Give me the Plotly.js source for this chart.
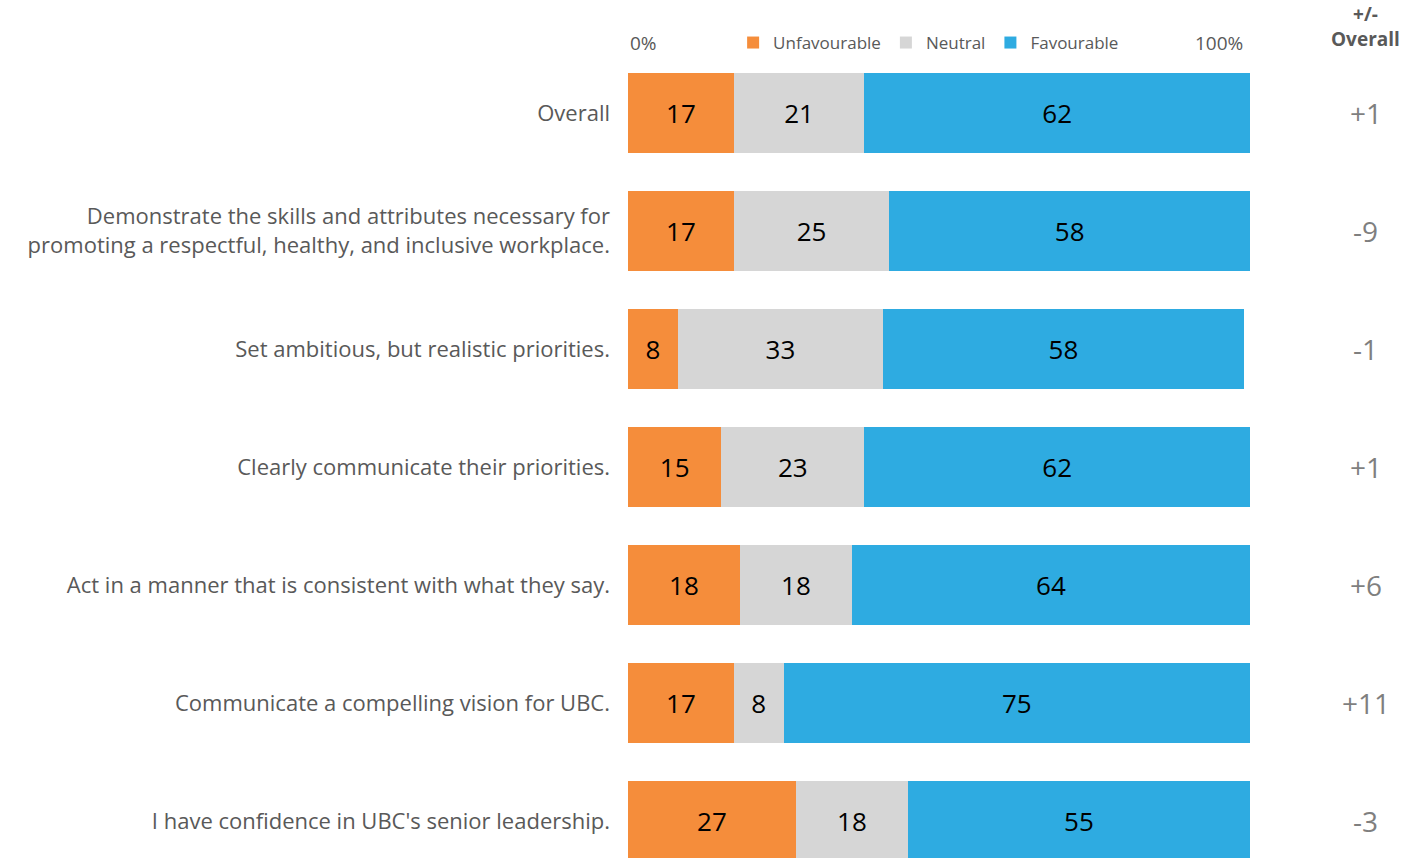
<!DOCTYPE html>
<html>
<head>
<meta charset="utf-8">
<script src="https://cdn.plot.ly/plotly-3.0.1.min.js"></script>
<style>html,body{margin:0;padding:0;background:#fff;}#chart{width:1402px;height:858px;}</style>
</head>
<body>
<div id="chart"></div>
<script>
const categories = [
  "Overall",
  "Demonstrate the skills and attributes necessary for<br>promoting a respectful, healthy, and inclusive workplace.",
  "Set ambitious, but realistic priorities.",
  "Clearly communicate their priorities.",
  "Act in a manner that is consistent with what they say.",
  "Communicate a compelling vision for UBC.",
  "I have confidence in UBC's senior leadership."
];
const unfavourable = [17, 17, 8, 15, 18, 17, 27];
const neutral = [21, 25, 33, 23, 18, 8, 18];
const favourable = [62, 58, 58, 62, 64, 75, 55];
const changeVsOverall = ["+1", "-9", "-1", "+1", "+6", "+11", "-3"];
const seriesNames = ["Unfavourable", "Neutral", "Favourable"];
const axisLabels = ["0%", "100%"];

const FONT = "'Open Sans', 'Noto Sans', sans-serif";
const colors = ["#F58D3B", "#D6D6D6", "#2EABE1"];
const seriesValues = [unfavourable, neutral, favourable];

const traces = seriesValues.map((vals, i) => ({
  type: "bar",
  orientation: "h",
  name: seriesNames[i],
  x: vals,
  y: categories,
  marker: {color: colors[i], line: {width: 0}},
  text: vals.map(String),
  textposition: "inside",
  insidetextanchor: "middle",
  textangle: 0,
  constraintext: "none",
  textfont: {family: FONT, size: 26, color: "#000000"},
  hoverinfo: "name+x"
}));

const annotations = [];
changeVsOverall.forEach((d, i) => {
  annotations.push({
    xref: "paper", yref: "y", x: 1.186, y: categories[i],
    text: d, showarrow: false, xanchor: "center", yanchor: "middle",
    font: {family: FONT, size: 28, color: "#7F7F7F"}
  });
});
annotations.push({
  xref: "paper", yref: "paper", x: 1.186, y: 1.0, yanchor: "bottom", xanchor: "center",
  text: "<b>+/-</b><br><b>Overall</b>", showarrow: false,
  font: {family: FONT, size: 19, color: "#595959"}
});
annotations.push({
  xref: "x", yref: "paper", x: 0, y: 1.0137, xanchor: "left", yanchor: "middle",
  text: axisLabels[0], showarrow: false, font: {family: FONT, size: 19, color: "#595959"}
});
annotations.push({
  xref: "x", yref: "paper", x: 100, y: 1.0137, xanchor: "right", yanchor: "middle", xshift: -5,
  text: axisLabels[1], showarrow: false, font: {family: FONT, size: 19, color: "#595959"}
});

const layout = {
  width: 1402, height: 858,
  margin: {l: 628, r: 152, t: 54, b: 0, pad: 0},
  paper_bgcolor: "#ffffff", plot_bgcolor: "#ffffff",
  barmode: "stack",
  bargap: 0.33,
  font: {family: FONT, color: "#595959"},
  showlegend: true,
  legend: {
    orientation: "h", x: 0.169, xanchor: "left", y: 1.0137, yanchor: "middle",
    font: {family: FONT, size: 17, color: "#595959"},
    bgcolor: "rgba(0,0,0,0)", traceorder: "normal"
  },
  xaxis: {range: [0, 100], showgrid: false, zeroline: false, showticklabels: false, showline: false, fixedrange: true},
  yaxis: {
    type: "category", categoryorder: "array", categoryarray: categories,
    range: [6.3136, -0.5], showgrid: false, zeroline: false, showline: false,
    ticks: "", ticklabelstandoff: 17,
    tickfont: {family: FONT, size: 22, color: "#595959"}, fixedrange: true
  },
  annotations: annotations
};

Plotly.newPlot("chart", traces, layout, {displayModeBar: false, staticPlot: true});
</script>
</body>
</html>
